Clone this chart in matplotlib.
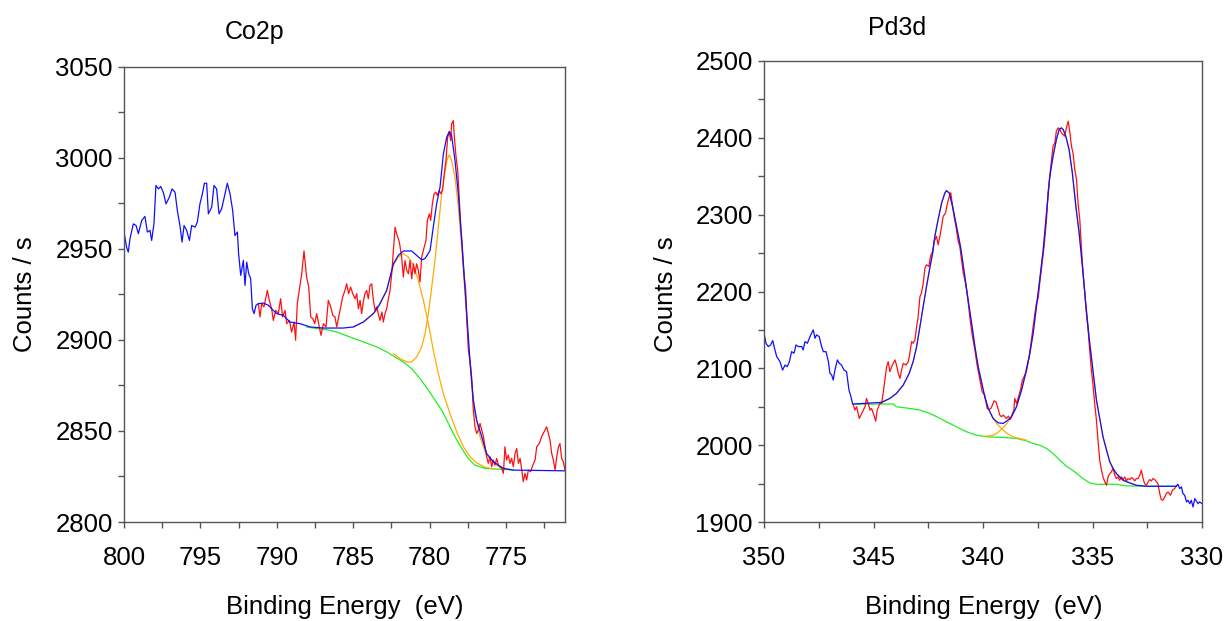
import matplotlib
matplotlib.use("Agg")
import matplotlib.pyplot as plt
from matplotlib.ticker import MultipleLocator

plt.rcParams["font.family"] = ["Liberation Sans", "DejaVu Sans"]

# ---- Co2p (binding energy eV, counts/s) ----
co_blue = [
    (800.00, 2959.2), (799.83, 2950.9), (799.72, 2948.2), (799.61, 2955.5), (799.39, 2963.7),
    (799.21, 2962.8), (799.06, 2958.3), (798.84, 2965.6), (798.63, 2967.8), (798.47, 2959.2),
    (798.30, 2960.1), (798.19, 2954.6), (798.04, 2963.7), (797.91, 2984.8), (797.75, 2982.9),
    (797.60, 2984.2), (797.43, 2981.1), (797.25, 2974.7), (797.03, 2978.4), (796.86, 2982.9),
    (796.66, 2981.1), (796.51, 2971.1), (796.34, 2962.8), (796.20, 2953.7), (796.07, 2962.8),
    (795.90, 2960.1), (795.72, 2954.6), (795.57, 2962.8), (795.35, 2961.9), (795.20, 2964.7),
    (795.03, 2974.7), (794.87, 2980.2), (794.74, 2986.0), (794.59, 2986.0), (794.48, 2969.2),
    (794.26, 2972.9), (794.11, 2984.8), (793.94, 2982.9), (793.78, 2969.2), (793.61, 2972.0),
    (793.39, 2980.2), (793.24, 2986.0), (793.06, 2980.2), (792.89, 2971.1), (792.74, 2957.3),
    (792.58, 2959.2), (792.50, 2947.3), (792.36, 2935.4), (792.19, 2943.6), (792.08, 2929.9),
    (791.97, 2942.7), (791.84, 2936.3), (791.71, 2933.6), (791.60, 2917.1), (791.49, 2914.4),
    (791.36, 2919.0), (791.21, 2919.9), (790.88, 2920.2), (790.55, 2919.0), (790.23, 2916.2),
    (790.01, 2914.4), (789.57, 2913.5), (789.14, 2909.8), (788.48, 2908.9), (787.83, 2907.1),
    (786.95, 2906.5), (785.65, 2906.5), (784.99, 2907.1), (784.34, 2909.8), (783.68, 2914.4),
    (783.25, 2919.9), (782.81, 2927.2), (782.37, 2941.8), (782.05, 2946.4), (781.72, 2948.8),
    (781.17, 2948.8), (780.85, 2946.4), (780.52, 2944.0), (780.30, 2944.6), (779.97, 2949.1),
    (779.76, 2961.9), (779.54, 2974.7), (779.32, 2983.8), (779.10, 3002.1), (778.88, 3011.3),
    (778.71, 3014.5), (778.56, 3012.2), (778.34, 2998.5), (778.12, 2980.2), (777.90, 2954.6),
    (777.75, 2936.3), (777.57, 2914.4), (777.36, 2888.8), (777.14, 2866.9), (776.92, 2855.9),
    (776.59, 2846.8), (776.27, 2837.6), (775.83, 2833.1), (775.17, 2829.4), (774.52, 2828.5),
    (771.14, 2828.1),
]
co_red = [
    (791.21, 2919.9), (791.10, 2912.6), (790.99, 2919.9), (790.84, 2918.1), (790.62, 2927.2),
    (790.49, 2921.7), (790.34, 2917.1), (790.23, 2910.7), (790.07, 2916.2), (789.90, 2914.4),
    (789.75, 2922.6), (789.62, 2912.6), (789.46, 2916.2), (789.35, 2908.9), (789.18, 2910.7),
    (789.03, 2904.3), (788.87, 2909.8), (788.77, 2899.8), (788.66, 2919.9), (788.53, 2927.2),
    (788.37, 2936.3), (788.22, 2948.8), (788.05, 2934.5), (787.91, 2929.0), (787.78, 2912.6),
    (787.65, 2911.7), (787.52, 2908.9), (787.39, 2914.4), (787.22, 2907.1), (787.11, 2902.5),
    (786.95, 2908.9), (786.78, 2907.1), (786.63, 2921.7), (786.47, 2918.1), (786.34, 2913.5),
    (786.19, 2912.6), (786.08, 2907.1), (785.95, 2912.6), (785.82, 2918.1), (785.69, 2923.5),
    (785.54, 2927.2), (785.43, 2930.8), (785.30, 2925.4), (785.17, 2929.0), (785.03, 2925.4),
    (784.88, 2922.6), (784.77, 2925.4), (784.66, 2917.1), (784.55, 2921.7), (784.45, 2914.4),
    (784.34, 2920.8), (784.23, 2925.4), (784.12, 2927.2), (784.01, 2922.6), (783.90, 2929.9),
    (783.79, 2930.8), (783.68, 2921.7), (783.57, 2916.2), (783.46, 2918.1), (783.36, 2914.4),
    (783.25, 2910.7), (783.12, 2915.3), (783.03, 2909.8), (782.92, 2914.4), (782.81, 2917.1),
    (782.70, 2922.6), (782.59, 2927.2), (782.48, 2936.3), (782.37, 2949.1), (782.26, 2961.9),
    (782.16, 2958.3), (781.98, 2953.7), (781.83, 2945.5), (781.72, 2934.5), (781.61, 2943.6),
    (781.50, 2938.2), (781.39, 2936.3), (781.28, 2943.6), (781.17, 2933.6), (781.06, 2941.8),
    (780.96, 2936.3), (780.85, 2941.8), (780.74, 2938.2), (780.63, 2931.8), (780.52, 2945.5),
    (780.41, 2949.1), (780.24, 2954.6), (780.15, 2965.6), (780.02, 2969.2), (779.93, 2965.6),
    (779.82, 2974.7), (779.71, 2980.2), (779.60, 2981.1), (779.49, 2979.3), (779.38, 2982.0),
    (779.25, 2980.2), (779.14, 2982.9), (779.04, 2991.2), (778.93, 2998.5), (778.82, 3011.3),
    (778.71, 3014.0), (778.62, 3009.4), (778.56, 3018.6), (778.45, 3020.4), (778.38, 3011.3),
    (778.27, 3000.3), (778.16, 2993.0), (778.05, 2976.5), (777.97, 2963.7), (777.86, 2950.9),
    (777.75, 2936.3), (777.64, 2927.2), (777.57, 2912.6), (777.46, 2894.3), (777.36, 2888.8),
    (777.25, 2879.7), (777.14, 2861.4), (777.03, 2852.3), (776.92, 2848.6), (776.81, 2850.4),
    (776.70, 2854.1), (776.59, 2850.4), (776.48, 2846.8), (776.37, 2841.3), (776.27, 2835.8),
    (776.16, 2832.2), (776.05, 2835.8), (775.94, 2830.3), (775.83, 2834.0), (775.72, 2831.2),
    (775.61, 2834.9), (775.50, 2831.2), (775.39, 2830.3), (775.28, 2829.4), (775.17, 2826.7),
    (775.07, 2841.3), (774.96, 2834.0), (774.85, 2836.7), (774.74, 2832.2), (774.63, 2834.9),
    (774.52, 2830.3), (774.41, 2837.6), (774.30, 2840.4), (774.19, 2832.2), (774.08, 2834.9),
    (773.97, 2828.5), (773.87, 2822.1), (773.76, 2826.7), (773.65, 2823.0), (773.54, 2828.5),
    (773.39, 2827.6), (773.25, 2831.2), (773.10, 2834.0), (772.99, 2841.3), (772.82, 2843.1),
    (772.67, 2846.8), (772.56, 2848.6), (772.34, 2852.3), (772.23, 2848.6), (772.12, 2845.0),
    (772.01, 2837.6), (771.90, 2834.0), (771.79, 2828.5), (771.68, 2835.8), (771.57, 2841.3),
    (771.47, 2843.1), (771.36, 2834.9), (771.25, 2833.1), (771.14, 2828.5),
]
co_green = [
    (788.05, 2907.1), (787.39, 2906.2), (786.74, 2905.6), (786.08, 2904.3), (785.21, 2901.6),
    (784.34, 2898.9), (783.46, 2896.1), (782.81, 2893.4), (782.26, 2890.6), (781.72, 2887.9),
    (781.17, 2884.2), (780.63, 2878.8), (780.08, 2872.4), (779.65, 2866.9), (779.21, 2861.4),
    (778.77, 2854.1), (778.34, 2846.8), (777.90, 2840.4), (777.47, 2834.9), (777.03, 2831.2),
    (776.37, 2829.4), (775.17, 2828.9), (774.52, 2828.5),
]
co_orange_1 = [
    (784.99, 2907.1), (784.34, 2909.8), (783.46, 2916.2), (782.81, 2927.2), (782.37, 2940.9),
    (782.05, 2945.5), (781.72, 2947.3), (781.39, 2945.5), (781.06, 2940.9), (780.74, 2932.7),
    (780.41, 2921.7), (780.08, 2908.9), (779.76, 2894.3), (779.43, 2881.5), (779.10, 2870.5),
    (778.67, 2859.6), (778.23, 2849.5), (777.79, 2841.3), (777.36, 2835.8), (776.92, 2832.5),
    (776.37, 2830.0), (775.83, 2829.2),
]
co_orange_2 = [
    (782.37, 2892.5), (781.94, 2889.7), (781.50, 2887.9), (781.17, 2887.9), (780.85, 2890.6),
    (780.52, 2896.1), (780.30, 2903.4), (780.08, 2914.4), (779.86, 2929.0), (779.65, 2943.6),
    (779.43, 2961.9), (779.21, 2980.2), (778.99, 2993.0), (778.84, 2999.4), (778.71, 3001.6),
    (778.56, 2998.5), (778.34, 2989.3), (778.12, 2972.9), (777.90, 2950.9), (777.68, 2925.4),
    (777.47, 2898.0), (777.25, 2876.0), (777.03, 2859.6), (776.70, 2846.8), (776.37, 2838.6),
    (775.94, 2833.1), (775.39, 2830.0), (774.74, 2828.9),
]

# ---- Pd3d ----
pd_blue = [
    (350.00, 2145.7), (349.91, 2132.6), (349.80, 2128.3), (349.70, 2130.4), (349.60, 2136.1),
    (349.54, 2128.3), (349.42, 2115.2), (349.27, 2108.7), (349.15, 2097.8), (349.04, 2104.3),
    (348.94, 2102.2), (348.84, 2108.7), (348.74, 2121.7), (348.63, 2119.6), (348.54, 2130.4),
    (348.43, 2128.3), (348.28, 2128.3), (348.21, 2123.9), (348.13, 2134.8), (348.02, 2132.6),
    (347.93, 2139.1), (347.83, 2145.7), (347.75, 2150.0), (347.67, 2139.1), (347.60, 2143.5),
    (347.48, 2141.3), (347.37, 2128.3), (347.29, 2121.7), (347.17, 2121.7), (347.06, 2108.7),
    (346.99, 2093.5), (346.91, 2091.3), (346.84, 2084.8), (346.76, 2097.8), (346.65, 2110.9),
    (346.56, 2106.5), (346.46, 2104.3), (346.35, 2097.8), (346.23, 2095.7), (346.12, 2071.7),
    (346.03, 2063.0), (345.95, 2053.5), (344.63, 2055.7), (344.25, 2060.9), (343.95, 2067.4),
    (343.64, 2078.3), (343.37, 2093.5), (343.19, 2108.7), (343.03, 2128.3), (342.88, 2154.3),
    (342.73, 2180.4), (342.58, 2206.5), (342.43, 2230.4), (342.30, 2250.0), (342.20, 2271.7),
    (342.05, 2293.5), (341.89, 2315.2), (341.74, 2328.3), (341.67, 2331.3), (341.54, 2328.3),
    (341.39, 2310.9), (341.21, 2284.8), (341.03, 2258.7), (340.83, 2219.6), (340.68, 2189.1),
    (340.52, 2158.7), (340.37, 2128.3), (340.22, 2102.2), (340.07, 2082.6), (339.92, 2063.0),
    (339.76, 2047.8), (339.54, 2034.8), (339.31, 2029.1), (339.08, 2028.3), (338.90, 2031.7),
    (338.70, 2037.0), (338.47, 2050.0), (338.24, 2071.7), (338.09, 2089.1), (337.86, 2119.6),
    (337.71, 2145.7), (337.56, 2180.4), (337.41, 2215.2), (337.25, 2254.3), (337.10, 2302.2),
    (336.95, 2350.0), (336.80, 2376.1), (336.65, 2397.8), (336.52, 2410.9), (336.42, 2413.0),
    (336.34, 2410.9), (336.22, 2402.2), (336.07, 2384.8), (335.92, 2354.3), (335.76, 2310.9),
    (335.61, 2276.1), (335.46, 2232.6), (335.31, 2184.8), (335.16, 2141.3), (335.00, 2102.2),
    (334.82, 2058.7), (334.67, 2034.8), (334.52, 2010.9), (334.36, 1993.5), (334.21, 1978.3),
    (334.06, 1969.6), (333.91, 1963.0), (333.60, 1954.3), (333.30, 1950.9), (333.00, 1947.8),
    (332.54, 1946.5), (331.17, 1946.5), (331.10, 1949.1), (331.02, 1943.5), (330.94, 1945.7),
    (330.87, 1937.0), (330.79, 1934.8), (330.71, 1926.1), (330.64, 1928.3), (330.56, 1923.9),
    (330.49, 1928.3), (330.41, 1919.6), (330.33, 1930.4), (330.26, 1927.4), (330.18, 1923.9),
    (330.11, 1926.1), (330.00, 1923.9),
]
pd_red = [
    (345.92, 2052.2), (345.85, 2045.7), (345.77, 2050.0), (345.65, 2034.8), (345.54, 2041.3),
    (345.47, 2045.7), (345.39, 2050.0), (345.32, 2060.9), (345.24, 2054.3), (345.16, 2045.7),
    (345.09, 2047.8), (344.98, 2039.1), (344.90, 2031.3), (344.83, 2045.7), (344.77, 2050.0),
    (344.71, 2054.3), (344.63, 2054.3), (344.56, 2067.4), (344.48, 2084.8), (344.40, 2102.2),
    (344.33, 2108.7), (344.25, 2095.7), (344.17, 2102.2), (344.10, 2106.5), (344.02, 2110.9),
    (343.95, 2104.3), (343.87, 2093.5), (343.79, 2087.0), (343.72, 2097.8), (343.64, 2106.5),
    (343.52, 2104.3), (343.41, 2108.7), (343.34, 2119.6), (343.26, 2134.8), (343.19, 2132.6),
    (343.11, 2137.0), (343.03, 2154.3), (342.96, 2167.4), (342.88, 2193.5), (342.81, 2197.8),
    (342.73, 2210.9), (342.65, 2230.4), (342.58, 2234.8), (342.47, 2232.6), (342.40, 2245.7),
    (342.30, 2252.2), (342.23, 2265.2), (342.12, 2271.7), (342.05, 2260.9), (341.97, 2271.7),
    (341.89, 2284.8), (341.82, 2297.8), (341.71, 2302.2), (341.62, 2315.2), (341.54, 2323.9),
    (341.47, 2328.3), (341.39, 2310.9), (341.32, 2297.8), (341.21, 2280.4), (341.13, 2265.2),
    (341.06, 2258.7), (340.98, 2241.3), (340.90, 2223.9), (340.83, 2215.2), (340.75, 2202.2),
    (340.68, 2187.0), (340.57, 2158.7), (340.48, 2141.3), (340.37, 2123.9), (340.27, 2104.3),
    (340.14, 2084.8), (340.04, 2069.6), (339.92, 2065.2), (339.81, 2047.8), (339.72, 2046.5),
    (339.64, 2047.8), (339.57, 2052.2), (339.49, 2057.8), (339.41, 2056.5), (339.34, 2050.0),
    (339.23, 2039.1), (339.16, 2037.0), (339.08, 2039.1), (339.00, 2037.0), (338.93, 2034.8),
    (338.84, 2037.8), (338.75, 2033.5), (338.65, 2041.3), (338.59, 2045.7), (338.55, 2060.9),
    (338.47, 2054.3), (338.38, 2063.0), (338.29, 2071.7), (338.20, 2084.8), (338.09, 2091.3),
    (338.02, 2095.7), (337.89, 2115.2), (337.79, 2137.0), (337.71, 2154.3), (337.63, 2171.7),
    (337.56, 2184.8), (337.48, 2191.3), (337.41, 2210.9), (337.32, 2232.6), (337.21, 2258.7),
    (337.10, 2293.5), (337.03, 2328.3), (336.95, 2350.0), (336.87, 2371.7), (336.80, 2389.1),
    (336.72, 2393.5), (336.65, 2408.7), (336.57, 2413.0), (336.49, 2410.9), (336.42, 2406.5),
    (336.34, 2404.3), (336.27, 2402.2), (336.19, 2413.0), (336.11, 2421.7), (336.04, 2408.7),
    (335.96, 2389.1), (335.89, 2380.4), (335.81, 2358.7), (335.73, 2345.7), (335.66, 2315.2),
    (335.58, 2293.5), (335.51, 2258.7), (335.43, 2223.9), (335.35, 2197.8), (335.28, 2171.7),
    (335.20, 2150.0), (335.13, 2123.9), (335.05, 2097.8), (334.97, 2076.1), (334.90, 2054.3),
    (334.82, 2032.6), (334.75, 2006.5), (334.67, 1980.4), (334.59, 1967.4), (334.52, 1958.7),
    (334.44, 1952.2), (334.36, 1947.8), (334.29, 1958.7), (334.21, 1963.0), (334.14, 1965.2),
    (334.06, 1969.6), (333.98, 1960.9), (333.91, 1956.5), (333.83, 1958.7), (333.76, 1954.3),
    (333.68, 1958.7), (333.60, 1955.2), (333.53, 1958.7), (333.45, 1953.5), (333.38, 1956.5),
    (333.30, 1955.2), (333.22, 1957.8), (333.15, 1956.5), (333.07, 1953.5), (333.00, 1956.5),
    (332.92, 1956.5), (332.84, 1960.9), (332.77, 1967.4), (332.69, 1956.5), (332.62, 1950.0),
    (332.54, 1947.8), (332.46, 1952.2), (332.39, 1955.2), (332.31, 1953.5), (332.24, 1956.5),
    (332.16, 1955.2), (332.08, 1952.2), (332.01, 1950.0), (331.93, 1937.0), (331.86, 1929.1),
    (331.78, 1928.3), (331.70, 1932.6), (331.63, 1937.0), (331.55, 1939.1), (331.44, 1934.8),
    (331.35, 1941.3), (331.25, 1943.5), (331.14, 1947.8),
]
pd_green = [
    (345.95, 2053.5), (344.10, 2053.5), (343.95, 2050.0), (343.34, 2047.8), (342.88, 2045.7),
    (342.43, 2041.3), (342.05, 2036.1), (341.67, 2030.4), (341.21, 2023.9), (340.75, 2017.4),
    (340.30, 2013.0), (339.84, 2010.9), (339.08, 2010.0), (338.47, 2008.7), (338.02, 2005.7),
    (337.71, 2002.2), (337.41, 2000.0), (337.10, 1995.7), (336.80, 1989.1), (336.49, 1980.4),
    (336.19, 1972.6), (335.81, 1965.2), (335.43, 1956.5), (335.13, 1950.9), (334.82, 1949.1),
    (333.91, 1949.1), (333.45, 1947.0), (332.54, 1946.5), (331.17, 1946.5),
]
pd_orange_1 = [
    (344.63, 2055.7), (344.25, 2060.9), (343.95, 2067.4), (343.64, 2078.3), (343.37, 2093.5),
    (343.19, 2108.7), (343.03, 2128.3), (342.88, 2154.3), (342.73, 2180.4), (342.58, 2206.5),
    (342.43, 2230.4), (342.30, 2250.0), (342.20, 2271.7), (342.05, 2293.5), (341.89, 2315.2),
    (341.74, 2328.3), (341.67, 2331.3), (341.54, 2328.3), (341.39, 2310.9), (341.21, 2284.8),
    (341.03, 2258.7), (340.83, 2219.6), (340.68, 2189.1), (340.52, 2158.7), (340.37, 2128.3),
    (340.22, 2102.2), (340.07, 2082.6), (339.92, 2063.0), (339.76, 2047.8), (339.57, 2037.0),
    (339.38, 2028.3), (339.16, 2021.7), (338.93, 2016.1), (338.70, 2011.7), (338.47, 2009.6),
    (338.02, 2006.5),
]
pd_orange_2 = [
    (339.92, 2011.7), (339.61, 2012.2), (339.38, 2015.2), (339.16, 2020.4), (338.93, 2027.4),
    (338.70, 2037.0), (338.47, 2050.0), (338.24, 2071.7), (338.09, 2089.1), (337.86, 2119.6),
    (337.71, 2145.7), (337.56, 2180.4), (337.41, 2215.2), (337.25, 2254.3), (337.10, 2302.2),
    (336.95, 2350.0), (336.80, 2376.1), (336.65, 2397.8), (336.52, 2410.9), (336.42, 2413.0),
    (336.34, 2410.9), (336.22, 2402.2), (336.07, 2384.8), (335.92, 2354.3), (335.76, 2310.9),
    (335.61, 2276.1), (335.46, 2232.6), (335.31, 2184.8), (335.16, 2141.3), (335.00, 2102.2),
    (334.82, 2058.7), (334.67, 2034.8), (334.52, 2010.9), (334.36, 1993.5), (334.21, 1978.3),
    (334.06, 1969.6), (333.91, 1963.0), (333.60, 1954.3), (333.30, 1950.9), (333.00, 1947.8),
]

BLUE = "#1010ff"
RED = "#ff1010"
GREEN = "#22ee22"
ORANGE = "#ffaa00"
SPINE = "#555555"
W, H = 1228, 621


def draw(ax, series):
    for pts, color in series:
        xs, ys = zip(*pts)
        ax.plot(xs, ys, color=color, lw=0.9)


def style(ax, xlim, ylim, xmaj, xmin, ymaj, ymin):
    ax.set_xlim(*xlim)
    ax.set_ylim(*ylim)
    ax.xaxis.set_major_locator(MultipleLocator(xmaj))
    ax.xaxis.set_minor_locator(MultipleLocator(xmin))
    ax.yaxis.set_major_locator(MultipleLocator(ymaj))
    ax.yaxis.set_minor_locator(MultipleLocator(ymin))
    for s in ax.spines.values():
        s.set_color(SPINE)
        s.set_linewidth(1.0)
    ax.tick_params(which="both", direction="out", length=4.5, width=1.0,
                   color=SPINE, top=False, right=False)
    ax.tick_params(axis="y", which="major", labelsize=18.5, pad=3.5)
    ax.tick_params(axis="x", which="major", labelsize=18.5, pad=13)


fig = plt.figure(figsize=(W / 100, H / 100), dpi=100)

ax1 = fig.add_axes([124 / W, 1 - 522 / H, (565 - 124) / W, (522 - 66.7) / H])
draw(ax1, [(co_green, GREEN), (co_orange_1, ORANGE), (co_orange_2, ORANGE),
           (co_red, RED), (co_blue, BLUE)])
style(ax1, (800, 771.14), (2800, 3050), 5, 2.5, 50, 25)

ax2 = fig.add_axes([764 / W, 1 - 522 / H, (1202 - 764) / W, (522 - 61) / H])
draw(ax2, [(pd_green, GREEN), (pd_orange_1, ORANGE), (pd_orange_2, ORANGE),
           (pd_red, RED), (pd_blue, BLUE)])
style(ax2, (350, 330), (1900, 2500), 5, 2.5, 100, 50)

fig.text(255 / W, 1 - 39 / H, "Co2p", fontsize=18, ha="center", va="baseline")
fig.text(897 / W, 1 - 35 / H, "Pd3d", fontsize=18, ha="center", va="baseline")
for cx in (345, 984):
    fig.text(cx / W, 1 - 614 / H, "Binding Energy  (eV)", fontsize=18.5,
             ha="center", va="baseline")
for bx in (32, 673):
    fig.text(bx / W, 1 - 294 / H, "Counts / s", fontsize=18.5, rotation=90,
             rotation_mode="anchor", ha="center", va="baseline")

fig.savefig("out.png", dpi=100)
